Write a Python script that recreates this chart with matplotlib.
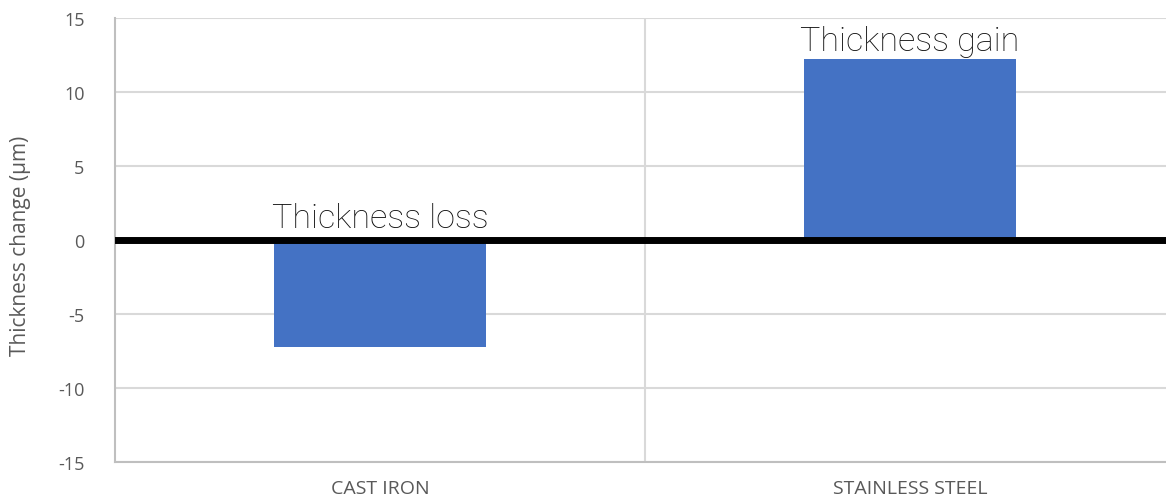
import matplotlib.pyplot as plt
import numpy as np

plt.rcParams["axes.unicode_minus"] = False

# values
materials = ["CAST IRON", "STAINLESS STEEL"]
thickness_change = [-7.2, 12.2]
notes = ["Thickness loss", "Thickness gain"]
yticks = [-15, -10, -5, 0, 5, 10, 15]

fig = plt.figure(figsize=(11.66, 5.02), dpi=100)
# the plot area runs a little past the right edge, as in the reference
ax = fig.add_axes([115 / 1166, 39 / 502, 1060 / 1166, 444 / 502])

x = np.arange(len(materials))
ax.bar(x, thickness_change, width=0.4, color="#4472C4", zorder=2)
ax.axhline(0, color="black", lw=5, xmin=0.003, zorder=3)

for i, (v, note) in enumerate(zip(thickness_change, notes)):
    off = 7 if v > 0 else 9.5
    ax.annotate(note, xy=(i, max(v, 0)), xytext=(0, off), textcoords="offset points",
                ha="center", va="baseline", fontsize=24.5, color="#111111",
                family="Roboto", fontweight="light")

ax.set_xlim(-0.5, len(materials) - 0.5)
ax.set_ylim(-15, 15)
ax.set_yticks(yticks)
ax.set_xticks(x)
ax.set_xticklabels(materials)
ax.tick_params(axis="y", length=0, pad=22, labelsize=13, labelcolor="#595959")
ax.tick_params(axis="x", length=0, pad=12, labelsize=14, labelcolor="#595959")
for lab in ax.get_xticklabels() + ax.get_yticklabels():
    lab.set_family("Open Sans")

# horizontal gridlines plus the category divider
ax.yaxis.grid(True, color="#d9d9d9", lw=1.5, zorder=0)
ax.set_axisbelow(True)
ax.axvline(0.5, color="#d9d9d9", lw=1.5, zorder=0)

for side in ["top", "right"]:
    ax.spines[side].set_visible(False)
for side in ["left", "bottom"]:
    ax.spines[side].set_color("#bfbfbf")
    ax.spines[side].set_linewidth(1.5)

ax.set_ylabel("Thickness change (µm)", fontsize=15, color="#595959", family="Open Sans")
ax.yaxis.set_label_coords(-84 / 1060, 0.49)

fig.savefig("out.png", dpi=100)
